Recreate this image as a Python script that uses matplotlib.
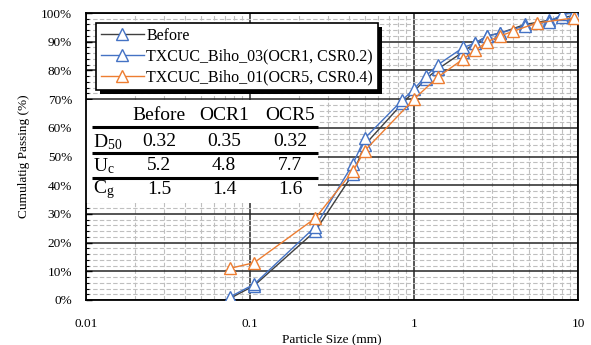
import matplotlib
matplotlib.use("Agg")
import matplotlib.pyplot as plt
from matplotlib.ticker import FixedLocator, FuncFormatter, MultipleLocator
from matplotlib.patches import Rectangle
from matplotlib.transforms import IdentityTransform

plt.rcParams['font.family'] = ['Liberation Serif', 'DejaVu Serif']
plt.rcParams['mathtext.fontset'] = 'custom'
plt.rcParams['mathtext.rm'] = 'Liberation Serif'
plt.rcParams['mathtext.it'] = 'Liberation Serif:italic'

# ---- data ----
before_x = [0.075, 0.106, 0.25, 0.425, 0.5, 0.85, 1.18, 1.4, 2.0, 2.36, 2.8, 3.35, 4.75, 6.7, 8.0, 9.5]
before_y = [0.5, 5.0, 24.0, 44.0, 54.0, 68.5, 77.0, 80.5, 86.5, 89.5, 92.0, 93.0, 96.0, 97.5, 98.5, 99.0]

ocr1_x = [0.075, 0.106, 0.25, 0.425, 0.5, 0.85, 1.0, 1.18, 1.4, 2.0, 2.36, 2.8, 3.35, 4.75, 6.7, 8.0, 9.5]
ocr1_y = [1.0, 5.5, 25.5, 47.5, 56.3, 69.7, 73.5, 78.0, 82.0, 88.0, 89.5, 92.0, 93.0, 95.5, 97.0, 99.5, 100.0]

ocr5_x = [0.075, 0.106, 0.25, 0.425, 0.5, 1.0, 1.4, 2.0, 2.36, 2.8, 3.35, 4.0, 5.6, 9.5]
ocr5_y = [11.0, 13.0, 28.5, 45.0, 52.0, 70.0, 77.7, 84.0, 87.0, 90.0, 92.0, 93.6, 96.5, 98.3]

series_labels = ["Before", "TXCUC_Biho_03(OCR1, CSR0.2)", "TXCUC_Biho_01(OCR5, CSR0.4)"]

table_cols = ["Before", "OCR1", "OCR5"]
table_rows = [r"D$_{\mathrm{50}}$", r"U$_{\mathrm{c}}$", r"C$_{\mathrm{g}}$"]
table_vals = [["0.32", "0.35", "0.32"], ["5.2", "4.8", "7.7"], ["1.5", "1.4", "1.6"]]

x_ticks = [0.01, 0.1, 1, 10]
x_ticklabels = ["0.01", "0.1", "1", "10"]

BLUE = "#4472C4"
ORANGE = "#ED7D31"
DARK = "#404040"

fig = plt.figure(figsize=(5.91, 3.45), dpi=100)
ax = fig.add_axes([86/591, 1-300/345, (578-86)/591, (300-13)/345])

ax.set_xscale('log')
ax.set_xlim(0.01, 10)
ax.set_ylim(0, 100)

# grid
minor_x = [m * 10**e for e in (-2, -1, 0) for m in range(2, 10)]
ax.xaxis.set_major_locator(FixedLocator(x_ticks))
ax.xaxis.set_minor_locator(FixedLocator(minor_x))
ax.xaxis.set_major_formatter(FuncFormatter(lambda v, p: x_ticklabels[x_ticks.index(v)] if v in x_ticks else ""))
ax.xaxis.set_minor_formatter(FuncFormatter(lambda v, p: ""))
ax.yaxis.set_major_locator(MultipleLocator(10))
ax.yaxis.set_minor_locator(MultipleLocator(2))
ax.yaxis.set_major_formatter(FuncFormatter(lambda v, p: f"{int(round(v))}%"))

ax.grid(which='major', color='#262626', linewidth=1.1, zorder=0)
ax.grid(which='minor', color='#BFBFBF', linewidth=0.8, linestyle=(0, (4, 2)), zorder=0)
ax.set_axisbelow(True)

ax.tick_params(axis='both', which='both', direction='in', labelsize=9.5)
ax.tick_params(axis='x', which='both', length=0, pad=13)
ax.tick_params(axis='y', which='major', length=4, width=1, pad=10)
ax.tick_params(axis='y', which='minor', length=2.5, width=0.8)
for s in ax.spines.values():
    s.set_linewidth(1.3)
    s.set_color('black')

mk = dict(marker='^', markersize=8, markerfacecolor='white', markeredgewidth=1.0)
ax.plot(before_x, before_y, color=DARK, markeredgecolor=BLUE, linewidth=1.0, label=series_labels[0], zorder=4, **mk)
ax.plot(ocr1_x, ocr1_y, color=BLUE, markeredgecolor=BLUE, linewidth=1.0, label=series_labels[1], zorder=4, **mk)
ax.plot(ocr5_x, ocr5_y, color=ORANGE, markeredgecolor=ORANGE, linewidth=1.0, label=series_labels[2], zorder=5, **mk)

leg = ax.legend(loc='upper left', bbox_to_anchor=((96-86)/492, 1-(23-13)/287), borderaxespad=0,
                fontsize=11.5, frameon=True, fancybox=False, shadow=False, framealpha=1.0,
                handlelength=2.7, handletextpad=0.15, borderpad=0.3, labelspacing=0.3)
leg.get_frame().set_edgecolor('black')
leg.get_frame().set_facecolor('white')
leg.get_frame().set_linewidth(1.2)
leg.set_zorder(7)

# table background (in pixel->axes coordinates)
def px2ax(px, py):
    return ((px - 86) / 492, (300 - py) / 287)

x0, y0 = px2ax(86, 203)
x1, y1 = px2ax(318, 100)
ax.add_patch(Rectangle((x0, y0), x1 - x0, y1 - y0, transform=ax.transAxes,
                       facecolor='white', edgecolor='none', zorder=2))

col_px = [159, 224, 290]
row_py = [142, 166, 190]
tfs = 14
tx, ty = px2ax(0, 116)
for c, label in zip(col_px, table_cols):
    ax.text(px2ax(c, 0)[0], ty, label, transform=ax.transAxes, ha='center', va='center',
            fontsize=tfs, zorder=3)
for r, (rl, vals) in zip(row_py, zip(table_rows, table_vals)):
    yy = px2ax(0, r)[1]
    ax.text(px2ax(93, 0)[0], yy, rl, transform=ax.transAxes, ha='left', va='center',
            fontsize=tfs, zorder=3)
    for c, v in zip(col_px, vals):
        ax.text(px2ax(c, 0)[0], yy, v, transform=ax.transAxes, ha='center', va='center',
                fontsize=tfs, zorder=3)
for ly in [127, 153, 178]:
    xa, ya = px2ax(92, ly)
    xb, _ = px2ax(318, ly)
    ax.plot([xa, xb], [ya, ya], transform=ax.transAxes, color='black', linewidth=2.2,
            solid_capstyle='butt', zorder=3)

ax.set_xlabel("Particle Size (mm)", fontsize=9.5, labelpad=2)
ax.set_ylabel("Cumulatig Passing (%)", fontsize=9.5, labelpad=8)

# legend shadow (offset solid black box)
fig.canvas.draw()
bb = leg.get_window_extent()
ax.add_patch(Rectangle((bb.x0 + 4, bb.y0 - 4), bb.width, bb.height, transform=IdentityTransform(),
                       facecolor='black', edgecolor='none', zorder=6, clip_on=False))

fig.savefig("out.png", dpi=100)
